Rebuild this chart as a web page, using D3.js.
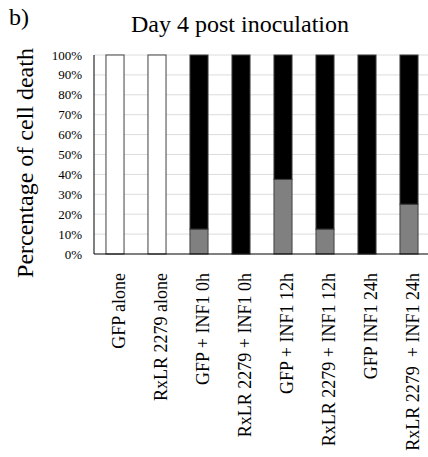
<!DOCTYPE html>
<html><head><meta charset="utf-8">
<script src="https://cdn.jsdelivr.net/npm/d3@7"></script>
<style>body{margin:0;background:#fff}svg{display:block;font-family:"Liberation Serif","Times New Roman",serif}</style>
</head><body><svg id="c" width="428" height="457"></svg>
<script>
const categories = ["GFP alone","RxLR 2279 alone","GFP + INF1 0h","RxLR 2279 + INF1 0h","GFP + INF1 12h","RxLR 2279 + INF1 12h","GFP INF1 24h","RxLR 2279  + INF1 24h"];
const noDeath = [100,100,0,0,0,0,0,0];
const partialDeath = [0,0,12.5,0,37.5,12.5,0,25];
const fullDeath = [0,0,87.5,100,62.5,87.5,100,75];
const yTicks = [0,10,20,30,40,50,60,70,80,90,100];
const seriesColors = ["#ffffff","#808080","#000000"];

const svg = d3.select("#c");
const x = d3.scaleBand().domain(categories).range([94,430]).paddingInner(0.57).paddingOuter(0.285);
const y = d3.scaleLinear().domain([0,100]).range([254,55]);

// gridlines
svg.append("g").selectAll("line").data(yTicks.filter(d=>d>0)).join("line")
  .attr("x1",94).attr("x2",428).attr("y1",d=>y(d)).attr("y2",d=>y(d))
  .attr("stroke","#dcdcdc").attr("stroke-width",1);

// stacked bars
const rows = categories.map((c,i)=>({cat:c, a:noDeath[i], b:partialDeath[i], c:fullDeath[i]}));
const stack = d3.stack().keys(["b","c","a"])(rows);
const colorByKey = {a:seriesColors[0], b:seriesColors[1], c:seriesColors[2]};
svg.append("g").selectAll("g").data(stack).join("g")
  .attr("fill",s=>colorByKey[s.key])
  .selectAll("rect").data(s=>s.filter(d=>d[1]-d[0]>0)).join("rect")
  .attr("x",d=>x(d.data.cat)).attr("width",x.bandwidth())
  .attr("y",d=>y(d[1])).attr("height",d=>y(d[0])-y(d[1]))
  .attr("stroke","#404040").attr("stroke-width",1);

// axes lines
svg.append("line").attr("x1",94).attr("x2",94).attr("y1",y(100)).attr("y2",y(0)).attr("stroke","#000");
svg.append("line").attr("x1",94).attr("x2",428).attr("y1",y(0)).attr("y2",y(0)).attr("stroke","#000").attr("stroke-width",1.2);

// y tick labels
svg.append("g").selectAll("text").data(yTicks).join("text")
  .attr("x",82).attr("y",d=>y(d)).attr("dy","0.35em").attr("text-anchor","end")
  .attr("font-size",13).text(d=>d+"%");

// x labels
svg.append("g").selectAll("text").data(categories).join("text")
  .attr("transform",d=>`translate(${x(d)+x.bandwidth()/2+10},273) rotate(-90)`)
  .attr("text-anchor","end").attr("font-size",18)
  .style("white-space","pre").text(d=>d);

// y title
svg.append("text").attr("transform","translate(33,163) rotate(-90)")
  .attr("text-anchor","middle").attr("font-size",24)
  .text("Percentage of cell death");

// title
svg.append("text").attr("x",240).attr("y",32).attr("text-anchor","middle")
  .attr("font-size",24).text("Day 4 post inoculation");
svg.append("text").attr("x",9).attr("y",25).attr("font-size",24).text("b)");
</script></body></html>
